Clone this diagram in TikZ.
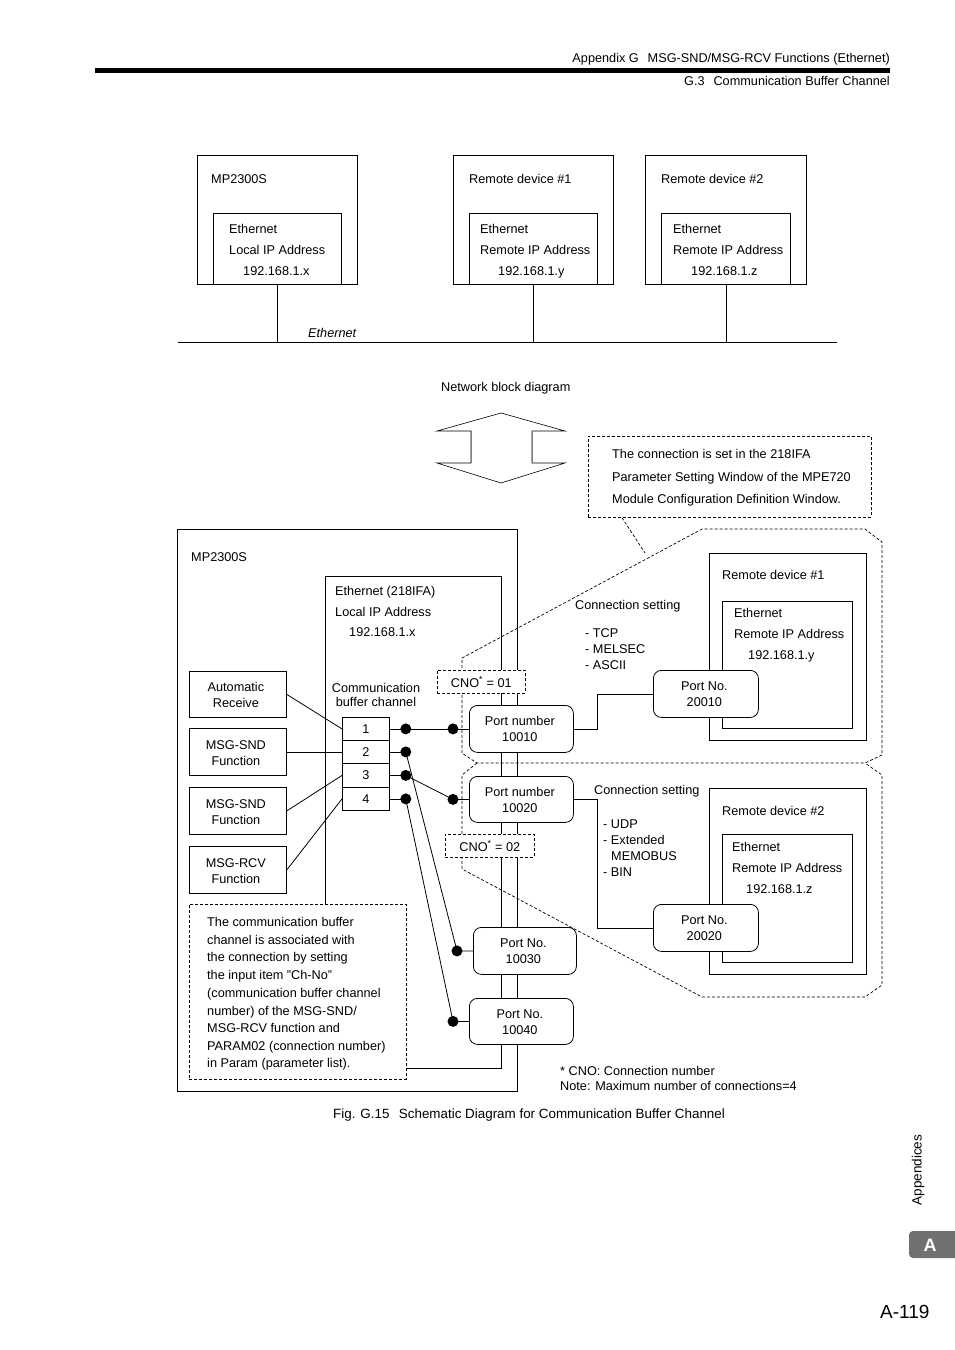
\documentclass[tikz,border=0pt]{standalone}
\usepackage{fontspec}
\setmainfont{Liberation Sans}
\usetikzlibrary{calc}
\newcommand{\fs}{\fontsize{12.7}{16}\selectfont}
\tikzset{
  ln/.style={line width=0.8pt},
  bx/.style={draw, line width=0.8pt, fill=white, inner sep=0pt, anchor=north west, align=center, font=\fs},
  rbx/.style={bx, rounded corners=8pt},
  dsh/.style={line width=0.7pt, dash pattern=on 3pt off 2pt},
  dbx/.style={bx, dsh},
  tx/.style={inner sep=0pt, anchor=base west, font=\fs},
  ctx/.style={inner sep=0pt, anchor=base, font=\fs},
  inbox/.style={inner sep=0pt, align=center, font=\fs},
  blob/.style={circle, fill=black, inner sep=0pt, minimum size=11pt},
}
\definecolor{tabgray}{HTML}{707070}
% box by corners: [style]{name}{x1}{y1}{x2}{y2}{text}
\newcommand{\bn}[7][bx]{\node[#1, minimum width={(#5-#3)*1pt}, minimum height={(#6-#4)*1pt}] (#2) at (#3,#4) {#7};}
% text line: {name}{x}{ycenter}{text}
\newcommand{\tl}[4]{\node[tx] (#1) at (#2,#3+5.5) {#4};}
\newcommand{\tc}[4]{\node[ctx] (#1) at (#2,#3+5.5) {#4};}
\begin{document}
\begin{tikzpicture}[x=1pt,y=-1pt]
\useasboundingbox[fill=white] (0,0) rectangle (954,1350);

% ---------- header ----------
\node[tx, anchor=base east] (hdrA) at (890,62.5) {Appendix G\hspace{0.7em}MSG-SND/MSG-RCV Functions (Ethernet)};
\node[tx, anchor=base east] (hdrB) at (890,85.5) {G.3\hspace{0.7em}Communication Buffer Channel};
\fill (95,68) rectangle (890,73);

% ---------- top network block diagram ----------
\bn{tmp}{197}{155}{357}{284}{}
\bn{tmpi}{213}{213}{341}{284}{}
\tl{tmpT}{211}{178}{MP2300S}
\tl{tmpA}{229}{228}{Ethernet}
\tl{tmpB}{229}{249}{Local IP Address}
\tl{tmpC}{243}{270}{192.168.1.x}

\bn{tr1}{453}{155}{613}{284}{}
\bn{tr1i}{469}{213}{597}{284}{}
\tl{tr1T}{469}{178}{Remote device \#1}
\tl{tr1A}{480}{228}{Ethernet}
\tl{tr1B}{480}{249}{Remote IP Address}
\tl{tr1C}{498}{270}{192.168.1.y}

\bn{tr2}{645}{155}{806}{284}{}
\bn{tr2i}{661}{213}{790}{284}{}
\tl{tr2T}{661}{178}{Remote device \#2}
\tl{tr2A}{673}{228}{Ethernet}
\tl{tr2B}{673}{249}{Remote IP Address}
\tl{tr2C}{691}{270}{192.168.1.z}

\coordinate (busL) at (178,342);
\coordinate (busR) at (837,342);
\draw[ln] (busL) -- (busR);
\draw[ln] (tmp.south) -- (tmp.south |- busL);
\draw[ln] (tr1.south) -- (tr1.south |- busL);
\draw[ln] (tr2.south) -- (tr2.south |- busL);
\node[tx, font=\fs\itshape] (ethLbl) at (308,337.5) {Ethernet};

% ---------- middle ----------
\tl{nbd}{441}{386}{Network block diagram}
\draw[line width=0.6pt] (501,413) -- (565,431) -- (532,431) -- (532,463) -- (565,463) -- (501,483)
  -- (437,463) -- (471,463) -- (471,431) -- (437,431) -- cycle;
\draw[line width=0.6pt, gray] (532,431) -- (532,463) (471,431) -- (471,463);

\bn[dbx]{cbox}{588}{436}{871}{517}{}
\tl{cbA}{612}{453}{The connection is set in the 218IFA}
\tl{cbB}{612}{476}{Parameter Setting Window of the MPE720}
\tl{cbC}{612}{498}{Module Configuration Definition Window.}

% ---------- lower diagram ----------
\bn{mpb}{177}{529}{517}{1091}{}
\draw[ln] (325,904) -- (325,576) -- (501,576) -- (501,1068) -- (406,1068);
\bn[dbx]{note}{189}{904}{406}{1079}{}

% remote devices
\bn{rd1}{709}{553}{866}{740}{}
\bn{rd1i}{722}{601}{852}{728}{}
\bn{rd2}{709}{788}{866}{974}{}
\bn{rd2i}{722}{834}{852}{962}{}

% dashed connection regions
\draw[dsh] (462,753) -- (462,658) -- (702,529) -- (865,529) -- (882,542) -- (882,755) -- (865,763) -- (477,763) -- cycle;
\draw[dsh] (477,763) -- (462,775) -- (462,869) -- (702,997) -- (865,997) -- (882,985) -- (882,775) -- (865,763);
\coordinate (callEnd) at (645,553);
\draw[dsh] ($(cbox.south west)+(34,0)$) -- (callEnd);

% function boxes
\bn{f1}{189}{671}{286}{717}{}
\bn{f2}{189}{728}{286}{775}{}
\bn{f3}{189}{787}{286}{834}{}
\bn{f4}{189}{846}{286}{893}{}
\node[inbox] (f1t) at ($(f1.center)+(-2,1)$) {Automatic\\Receive};
\node[inbox] (f2t) at ($(f2.center)+(-2,1)$) {MSG-SND\\Function};
\node[inbox] (f3t) at ($(f3.center)+(-2,1)$) {MSG-SND\\Function};
\node[inbox] (f4t) at ($(f4.center)+(-2,1)$) {MSG-RCV\\Function};

% channel boxes
\bn{ch1}{342}{717}{389}{740}{1}
\bn{ch2}{342}{740}{389}{763}{2}
\bn{ch3}{342}{763}{389}{787}{3}
\bn{ch4}{342}{787}{389}{810}{4}

\draw[ln] (f1.east) -- (ch1.west);
\draw[ln] (f2.east) -- (ch2.west);
\draw[ln] (f3.east) -- (ch3.west);
\draw[ln] (f4.east) -- (ch4.west);

% ports
\bn[rbx]{p1}{469}{705}{573}{752}{}
\bn[rbx]{p2}{469}{776}{573}{822}{}
\bn[rbx]{p3}{473}{927}{576}{974}{}
\bn[rbx]{p4}{469}{998}{573}{1044}{}
\bn[rbx]{q1}{653}{670}{758}{717}{}
\bn[rbx]{q2}{653}{904}{758}{951}{}
\node[inbox] (p1t) at ($(p1.center)+(-1.5,0.5)$) {Port number\\10010};
\node[inbox] (p2t) at ($(p2.center)+(-1.5,0.5)$) {Port number\\10020};
\node[inbox] (p3t) at ($(p3.center)+(-1.5,0.5)$) {Port No.\\10030};
\node[inbox] (p4t) at ($(p4.center)+(-1.5,0.5)$) {Port No.\\10040};
\node[inbox] (q1t) at ($(q1.center)+(-1.5,0.5)$) {Port No.\\20010};
\node[inbox] (q2t) at ($(q2.center)+(-1.5,0.5)$) {Port No.\\20020};

\draw[ln] (p1.east) -- ++(24,0) |- (q1.west);
\draw[ln] (p2.east) -- ++(24,0) |- (q2.west);

% CNO boxes
\bn[dbx]{cno1}{437}{670}{525}{693}{CNO\textsuperscript{*} = 01}
\bn[dbx]{cno2}{445}{834}{534}{857}{CNO\textsuperscript{*} = 02}

% dots
\node[blob] (dL1) at ($(ch1.east)+(16,0)$) {};
\node[blob] (dL2) at ($(ch2.east)+(16,0)$) {};
\node[blob] (dL3) at ($(ch3.east)+(16,0)$) {};
\node[blob] (dL4) at ($(ch4.east)+(16,0)$) {};
\node[blob] (dR1) at ($(p1.west)+(-16,0)$) {};
\node[blob] (dR2) at ($(p2.west)+(-16,0)$) {};
\node[blob] (dR3) at ($(p3.west)+(-16,0)$) {};
\node[blob] (dR4) at ($(p4.west)+(-16,0)$) {};

\draw[ln] (ch1.east) -- (dL1.center) -- (dR1.center) -- (p1.west);
\draw[ln] (ch2.east) -- (dL2.center);
\draw[ln] (ch3.east) -- (dL3.center);
\draw[ln] (ch4.east) -- (dL4.center);
\draw[ln] (dL3.center) -- (dR2.center) -- (p2.west);
\draw[ln] (dL2.center) -- (dR3.center) -- (p3.west);
\draw[ln] (dL4.center) -- (dR4.center) -- (p4.west);

% texts lower
\tl{mpT}{191}{556}{MP2300S}
\tl{eA}{335}{590}{Ethernet (218IFA)}
\tl{eB}{335}{611}{Local IP Address}
\tl{eC}{349}{631}{192.168.1.x}
\tc{cbcA}{376}{687}{Communication}
\tc{cbcB}{376}{701}{buffer channel}

\tl{r1T}{722}{574}{Remote device \#1}
\tl{r1A}{734}{612}{Ethernet}
\tl{r1B}{734}{633}{Remote IP Address}
\tl{r1C}{748}{654}{192.168.1.y}
\tl{r2T}{722}{810}{Remote device \#2}
\tl{r2A}{732}{846}{Ethernet}
\tl{r2B}{732}{867}{Remote IP Address}
\tl{r2C}{746}{888}{192.168.1.z}

\tl{cs1}{575}{604}{Connection setting}
\tl{cs1a}{585}{632}{- TCP}
\tl{cs1b}{585}{648}{- MELSEC}
\tl{cs1c}{585}{664}{- ASCII}
\tl{cs2}{594}{789}{Connection setting}
\tl{cs2a}{603}{823}{- UDP}
\tl{cs2b}{603}{839}{- Extended}
\tl{cs2c}{611}{855}{MEMOBUS}
\tl{cs2d}{603}{871}{- BIN}

\tl{nt1}{207}{921}{The communication buffer}
\tl{nt2}{207}{939}{channel is associated with}
\tl{nt3}{207}{956}{the connection by setting}
\tl{nt4}{207}{974}{the input item "Ch-No"}
\tl{nt5}{207}{992}{(communication buffer channel}
\tl{nt6}{207}{1010}{number) of the MSG-SND/}
\tl{nt7}{207}{1027}{MSG-RCV function and}
\tl{nt8}{207}{1045}{PARAM02 (connection number)}
\tl{nt9}{207}{1062}{in Param (parameter list).}

\tl{fn1}{560}{1070}{* CNO: Connection number}
\tl{fn2}{560}{1085}{Note: Maximum number of connections=4}
\node[tx, font=\fontsize{13.4}{16}\selectfont] (cap) at (333,1118.5) {Fig. G.15\hspace{0.7em}Schematic Diagram for Communication Buffer Channel};

% ---------- side tab & page number ----------
\node[inner sep=0pt, rotate=90, font=\fontsize{13.5}{16}\selectfont] (appx) at (918,1170) {Appendices};
\fill[tabgray, rounded corners=4pt] (909,1231) rectangle (970,1258);
\node[inner sep=0pt, text=white, font=\bfseries\fontsize{18}{18}\selectfont] (tabA) at (930,1245) {A};
\node[tx, font=\fontsize{19}{20}\selectfont] (pgno) at (880,1318) {A-119};
\end{tikzpicture}
\end{document}
